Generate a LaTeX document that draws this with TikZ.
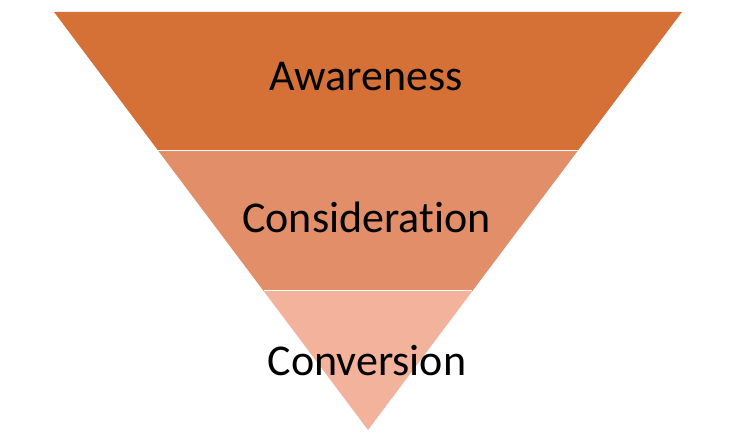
\documentclass[tikz,border=0pt]{standalone}
\usepackage{fontspec}
\setmainfont[RawFeature={-liga;-clig;-dlig}]{Carlito}
\definecolor{bandA}{RGB}{213,113,55}
\definecolor{bandB}{RGB}{225,142,105}
\definecolor{bandC}{RGB}{242,178,155}
\begin{document}
\begin{tikzpicture}[x=1bp,y=-1bp,
  band/.style={draw=none},
  lbl/.style={anchor=base,inner sep=0pt,font=\fontsize{44bp}{50bp}\selectfont,text=black}]
\useasboundingbox (0,0) rectangle (734,439);
\coordinate (tl) at (54,12);
\coordinate (tr) at (682,12);
\coordinate (ml1) at (158.4,151);
\coordinate (mr1) at (577.6,151);
\coordinate (ml2) at (263.6,291);
\coordinate (mr2) at (472.4,291);
\coordinate (tip) at (368,430);
\fill[bandA] (tl) -- (tr) -- (mr1) -- (ml1) -- cycle;
\fill[bandB] (ml1) -- (mr1) -- (mr2) -- (ml2) -- cycle;
\fill[bandC] (ml2) -- (mr2) -- (tip) -- cycle;
\draw[white,line width=1bp] (ml1) -- (mr1);
\draw[white,line width=1bp] (ml2) -- (mr2);
\node[lbl] (aw) at (366,91) {Awareness};
\node[lbl] (co) at (366.5,233) {Consideration};
\node[lbl] (cv) at (367,375) {Conversion};
\end{tikzpicture}
\end{document}
